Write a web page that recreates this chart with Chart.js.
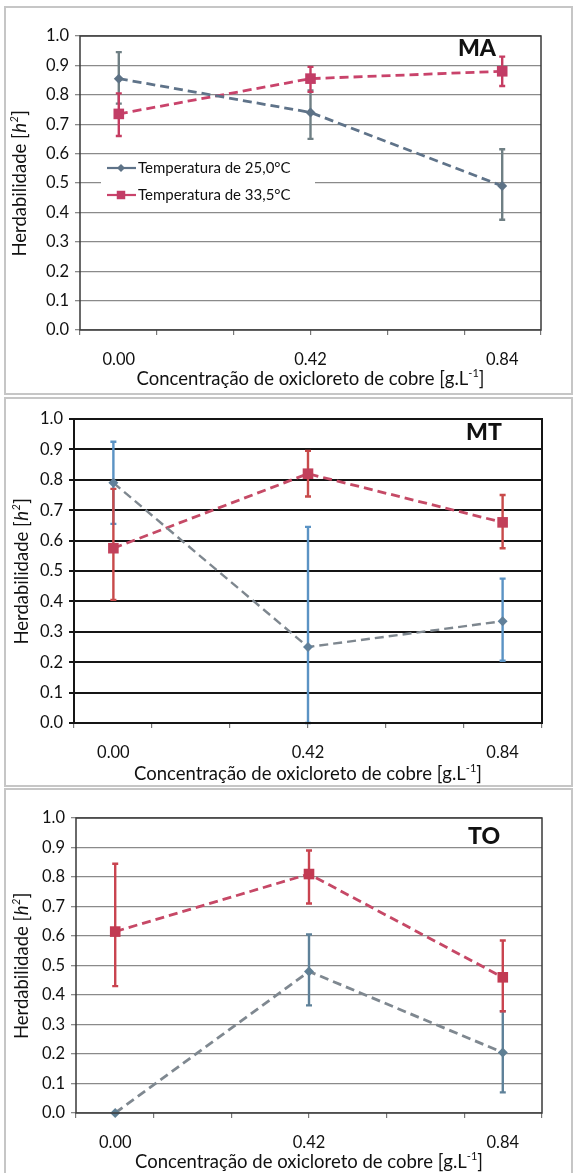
<!DOCTYPE html>
<html>
<head>
<meta charset="utf-8">
<title>Herdabilidade</title>
<script src="https://cdn.jsdelivr.net/npm/chart.js@4.4.0/dist/chart.umd.min.js"></script>
<style>
    body { margin: 0; width: 578px; height: 1173px; position: relative; overflow: hidden; background: #fff; }
    .frame { position: absolute; left: 4px; width: 565px; border: 2px solid #c6c6c6; background: #fff; }
    canvas { position: absolute; left: 0; }
</style>
</head>
<body>
<div class="frame" style="top:6px; height:385px;"></div>
<div class="frame" style="top:397px; height:386px;"></div>
<div class="frame" style="top:788px; height:392px;"></div>
<canvas id="chartMA" style="top:0px;" width="578" height="396"></canvas>
<canvas id="chartMT" style="top:396px;" width="578" height="391"></canvas>
<canvas id="chartTO" style="top:787px;" width="578" height="386"></canvas>
<script>
// ==================== DATA ====================
const concentrations = [0, 0.42, 0.84];
const xTickLabels = ['0.00', '0.42', '0.84'];
const seriesNames = ['Temperatura de 25,0°C', 'Temperatura de 33,5°C'];

// MA
const ma25 = [0.855, 0.74, 0.49];
const ma25Low = [0.77, 0.65, 0.375];
const ma25High = [0.945, 0.815, 0.615];
const ma33 = [0.735, 0.855, 0.88];
const ma33Low = [0.66, 0.81, 0.83];
const ma33High = [0.805, 0.895, 0.93];

// MT
const mt25 = [0.79, 0.25, 0.335];
const mt25Low = [0.655, 0.0, 0.205];
const mt25High = [0.925, 0.645, 0.475];
const mt33 = [0.575, 0.82, 0.66];
const mt33Low = [0.405, 0.745, 0.575];
const mt33High = [0.77, 0.895, 0.75];

// TO
const to25 = [0.0, 0.48, 0.205];
const to25Low = [0.0, 0.365, 0.07];
const to25High = [0.0, 0.605, 0.345];
const to33 = [0.615, 0.81, 0.46];
const to33Low = [0.43, 0.71, 0.345];
const to33High = [0.845, 0.89, 0.585];

// ==================== AXIS RANGE ====================
const xMin = -0.085;
const xMax = 0.925;
const FONT = 'Lato, "Open Sans", sans-serif';

// ==================== DECORATION PLUGIN ====================
const panelDecor = {
    id: 'panelDecor',
    beforeDatasetsDraw(chart, args, opts) {
        const ctx = chart.ctx;
        const xs = chart.scales.x;
        const ys = chart.scales.y;
        ctx.save();
        chart.data.datasets.forEach(ds => {
            ctx.strokeStyle = ds.errColor;
            ctx.lineWidth = 2.4;
            concentrations.forEach((c, i) => {
                const lo = ds.errLow[i];
                const hi = ds.errHigh[i];
                if (hi - lo <= 0) return;
                const x = xs.getPixelForValue(c);
                const y1 = ys.getPixelForValue(lo);
                const y2 = ys.getPixelForValue(hi);
                ctx.beginPath();
                ctx.moveTo(x, y1);
                ctx.lineTo(x, y2);
                ctx.moveTo(x - 3, y1);
                ctx.lineTo(x + 3, y1);
                ctx.moveTo(x - 3, y2);
                ctx.lineTo(x + 3, y2);
                ctx.stroke();
            });
        });
        ctx.restore();
    },
    afterDraw(chart, args, opts) {
        const ctx = chart.ctx;
        const a = chart.chartArea;
        ctx.save();

        // plot frame
        ctx.strokeStyle = opts.frameColor;
        ctx.lineWidth = opts.frameWidth;
        ctx.strokeRect(a.left, a.top, a.right - a.left, a.bottom - a.top);

        // panel label
        ctx.fillStyle = '#111';
        ctx.font = '900 23px ' + FONT;
        ctx.textAlign = 'center';
        ctx.textBaseline = 'middle';
        ctx.fillText(opts.label, opts.labelX, opts.labelY);

        // y axis title with italic h
        ctx.save();
        ctx.translate(opts.yTitleX, (a.top + a.bottom) / 2);
        ctx.rotate(-Math.PI / 2);
        ctx.textBaseline = 'middle';
        ctx.textAlign = 'left';
        const parts = [
            { t: 'Herdabilidade [', f: '18.5px ' + FONT, dy: 0 },
            { t: 'h', f: 'italic 18.5px ' + FONT, dy: 0 },
            { t: '2', f: 'italic 11px ' + FONT, dy: -6 },
            { t: ']', f: '18.5px ' + FONT, dy: 0 }
        ];
        let total = 0;
        parts.forEach(p => { ctx.font = p.f; total += ctx.measureText(p.t).width + 0.5; });
        let px = -total / 2;
        ctx.fillStyle = '#111';
        parts.forEach(p => {
            ctx.font = p.f;
            ctx.fillText(p.t, px, p.dy);
            px += ctx.measureText(p.t).width + 0.5;
        });
        ctx.restore();

        // x axis title with superscript
        const xParts = [
            { t: 'Concentração de oxicloreto de cobre [g.L', f: '18.5px ' + FONT, dy: 0 },
            { t: '-1', f: '11px ' + FONT, dy: -6 },
            { t: ']', f: '18.5px ' + FONT, dy: 0 }
        ];
        let xw = 0;
        xParts.forEach(p => { ctx.font = p.f; xw += ctx.measureText(p.t).width; });
        let tx = (a.left + a.right) / 2 - xw / 2;
        ctx.textAlign = 'left';
        ctx.fillStyle = '#111';
        xParts.forEach(p => {
            ctx.font = p.f;
            ctx.fillText(p.t, tx, opts.xTitleY + p.dy);
            tx += ctx.measureText(p.t).width;
        });

        // legend
        if (opts.legend) {
            const lg = opts.legend;
            ctx.fillStyle = '#fff';
            ctx.fillRect(lg.x, lg.y, lg.w, lg.h);
            chart.data.datasets.forEach((ds, i) => {
                const ry = lg.y + 11 + i * 27;
                ctx.strokeStyle = ds.borderColor;
                ctx.lineWidth = 2.2;
                ctx.beginPath();
                ctx.moveTo(lg.x + 6, ry);
                ctx.lineTo(lg.x + 35, ry);
                ctx.stroke();
                ctx.fillStyle = ds.pointBackgroundColor;
                Chart.helpers.drawPoint(ctx, {
                    pointStyle: ds.pointStyle,
                    radius: ds.pointRadius * 0.8,
                    borderWidth: 0
                }, lg.x + 20, ry);
                ctx.fillStyle = '#111';
                ctx.font = '15px ' + FONT;
                ctx.textAlign = 'left';
                ctx.textBaseline = 'middle';
                ctx.fillText(ds.label, lg.x + 37, ry);
            });
        }
        ctx.restore();
    }
};

// ==================== BUILD PANEL ====================
const makeDataset = (label, values, low, high, style) => ({
    label,
    data: concentrations.map((c, i) => ({ x: c, y: values[i] })),
    errLow: low,
    errHigh: high,
    errColor: style.errColor,
    showLine: true,
    clip: false,
    borderColor: style.lineColor,
    borderWidth: style.lineWidth,
    borderDash: [9, 5],
    pointStyle: style.point,
    pointRadius: style.radius,
    pointBackgroundColor: style.pointColor,
    pointBorderColor: style.pointColor,
    pointBorderWidth: 0,
    fill: false
});

const makePanel = (canvasId, cfg) => {
    const canvas = document.getElementById(canvasId);
    const H = canvas.height;
    const minorStep = (xMax - xMin) / 6;
    const minorTicks = [0, 1, 2, 3, 4, 5, 6].map(k => xMin + k * minorStep);
    const sameValue = (p, q) => Math.abs(p - q) < 1e-6;

    return new Chart(canvas, {
        type: 'scatter',
        data: {
            datasets: [
                makeDataset(seriesNames[0], cfg.s25, cfg.s25Low, cfg.s25High, cfg.style25),
                makeDataset(seriesNames[1], cfg.s33, cfg.s33Low, cfg.s33High, cfg.style33)
            ]
        },
        options: {
            responsive: false,
            animation: false,
            layout: { padding: { left: 0, top: cfg.top, right: 578 - cfg.right, bottom: 0 } },
            plugins: {
                legend: { display: false },
                tooltip: { enabled: false },
                panelDecor: cfg.decor
            },
            scales: {
                x: {
                    type: 'linear',
                    min: xMin,
                    max: xMax,
                    afterFit: scale => { scale.height = H - cfg.bottom; },
                    afterBuildTicks: axis => {
                        const vals = minorTicks.slice();
                        concentrations.forEach(c => {
                            if (!vals.some(v => sameValue(v, c))) vals.push(c);
                        });
                        vals.sort((p, q) => p - q);
                        axis.ticks = vals.map(v => ({ value: v }));
                    },
                    ticks: {
                        autoSkip: false,
                        maxRotation: 0,
                        padding: 15,
                        color: '#111',
                        font: { family: FONT, size: 16.5 },
                        callback: value => {
                            const idx = concentrations.findIndex(c => sameValue(c, value));
                            return idx >= 0 ? xTickLabels[idx] : '';
                        }
                    },
                    grid: {
                        drawOnChartArea: false,
                        tickLength: 5,
                        lineWidth: 1.2,
                        color: ctx => {
                            const v = ctx.tick ? ctx.tick.value : null;
                            const isMinor = minorTicks.some(m => sameValue(m, v));
                            return isMinor ? '#777' : 'rgba(0,0,0,0)';
                        }
                    },
                    border: { display: false }
                },
                y: {
                    min: 0,
                    max: 1,
                    afterFit: scale => { scale.width = cfg.left; },
                    ticks: {
                        stepSize: 0.1,
                        padding: 6,
                        color: '#111',
                        font: { family: FONT, size: 16.5 },
                        callback: value => value.toFixed(1)
                    },
                    grid: {
                        color: cfg.gridColor,
                        lineWidth: cfg.gridWidth,
                        tickLength: 5
                    },
                    border: { display: false }
                }
            }
        },
        plugins: [panelDecor]
    });
};

// ==================== STYLES ====================
const style25MA = { lineColor: '#5f7389', errColor: '#6f7f84', point: 'rectRot', radius: 5, pointColor: '#5d7286', lineWidth: 2.8 };
const style33MA = { lineColor: '#c9436b', errColor: '#c63c62', point: 'rect', radius: 7.5, pointColor: '#c23d66', lineWidth: 2.8 };
const style25MT = { lineColor: '#7e878f', errColor: '#5b93c4', point: 'rectRot', radius: 5, pointColor: '#61809a', lineWidth: 2.4 };
const style33MT = { lineColor: '#c54a66', errColor: '#c84a4a', point: 'rect', radius: 7.5, pointColor: '#c2405a', lineWidth: 2.8 };
const style25TO = { lineColor: '#7f8890', errColor: '#5e8199', point: 'rectRot', radius: 5, pointColor: '#5f7f94', lineWidth: 2.8 };
const style33TO = { lineColor: '#c64866', errColor: '#c9434f', point: 'rect', radius: 7.5, pointColor: '#c23a52', lineWidth: 2.8 };

// ==================== INITIALIZE ====================
window.addEventListener('load', () => {
    makePanel('chartMA', {
        s25: ma25, s25Low: ma25Low, s25High: ma25High,
        s33: ma33, s33Low: ma33Low, s33High: ma33High,
        style25: style25MA, style33: style33MA,
        left: 80, right: 541, top: 36, bottom: 330,
        gridColor: '#8a8a8a', gridWidth: 1.3,
        decor: {
            label: 'MA', labelX: 477, labelY: 49,
            frameColor: '#3a3a3a', frameWidth: 1.5,
            yTitleX: 20, xTitleY: 379,
            legend: { x: 101, y: 157, w: 214, h: 51 }
        }
    });

    makePanel('chartMT', {
        s25: mt25, s25Low: mt25Low, s25High: mt25High,
        s33: mt33, s33Low: mt33Low, s33High: mt33High,
        style25: style25MT, style33: style33MT,
        left: 74, right: 542, top: 23, bottom: 327,
        gridColor: '#151515', gridWidth: 2,
        decor: {
            label: 'MT', labelX: 484, labelY: 37,
            frameColor: '#151515', frameWidth: 2,
            yTitleX: 22, xTitleY: 378,
            legend: null
        }
    });

    makePanel('chartTO', {
        s25: to25, s25Low: to25Low, s25High: to25High,
        s33: to33, s33Low: to33Low, s33High: to33High,
        style25: style25TO, style33: style33TO,
        left: 76, right: 542, top: 31, bottom: 326,
        gridColor: '#8a8a8a', gridWidth: 1.3,
        decor: {
            label: 'TO', labelX: 484, labelY: 50,
            frameColor: '#3a3a3a', frameWidth: 1.5,
            yTitleX: 22, xTitleY: 375,
            legend: null
        }
    });
});
</script>
</body>
</html>
